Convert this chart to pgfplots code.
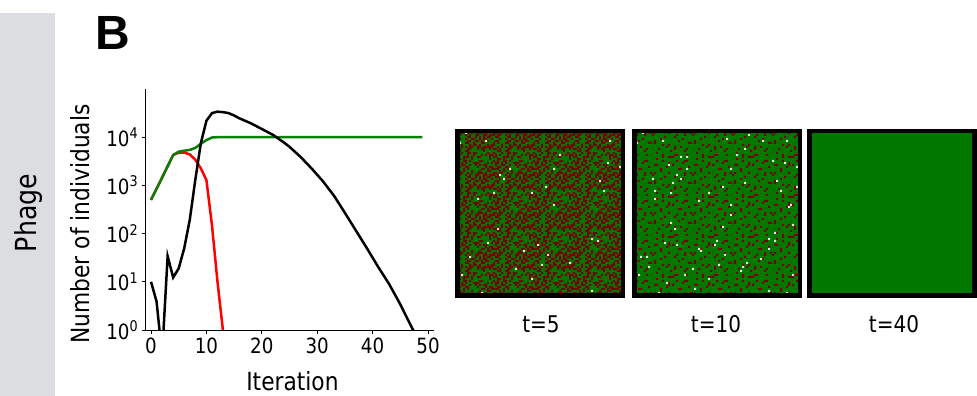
\documentclass[border=0pt]{standalone}
\usepackage{pgfplots}
\pgfplotsset{compat=1.18}
\usepackage{fontspec}
\setmainfont{DejaVu Sans}[FakeStretch=0.87]
\newfontfamily\panelfont{Liberation Sans}
\definecolor{bandgray}{RGB}{220,221,224}
\definecolor{cellgreen}{RGB}{0,120,0}
\definecolor{cellred}{RGB}{120,0,0}
\definecolor{cellwhite}{RGB}{228,228,228}
\definecolor{linegreen}{RGB}{8,128,8}

\pgfplotstableread{
x y
0 10
1 3.9
2 0.3
3 34
4 12.3
5 19
6 50
7 195
8 1320
9 7600
10 21900
11 31600
12 33900
13 33100
14 31600
15 28200
16 24500
18 19500
20 14800
22 11200
24 7760
25 6310
27 3890
29 2240
31 1230
33 617
35 269
37 115
39 49
41 20.4
43 8.9
45 3.4
47 1.17
48 0.71
}\blackdata
\pgfplotstableread{
x y
0 500
1 850
2 1450
3 2500
4 4270
5 5000
6 5250
7 5450
8 6000
9 7300
10 8700
11 9850
12 10000
49 10000
}\greendata
\pgfplotstableread{
x y
0 500
1 850
2 1450
3 2500
4 4270
5 4800
6 4800
7 4400
8 3400
9 2250
10 1290
11 150
12 10
13 0.95
14 0.1
}\reddata

% texture tiles for the snapshot panels (units: one cell)
\def\listA{0/0,1/0,6/0,7/0,1/1,2/1,5/1,7/1,0/2,2/2,3/2,6/2,8/2,2/3,4/3,8/3,0/4,1/4,4/4,6/4,1/5,2/5,5/5,6/5,0/6,3/6,4/6,7/6,0/7,1/7,3/7,5/7,9/7,1/8,4/8,5/8,7/8,1/9,2/9,4/9,8/9}
\def\listB{1/0,2/1,6/1,6/2,9/2,3/4,4/4,8/5,0/6,5/7,6/8,7/8,2/8}
\newcommand\tileA{%
  \fill[cellred]
    foreach \i/\j in \listA {(\i,\j) rectangle ++(1,1)}
    foreach \i/\j in \listA {(\j+10,\i) rectangle ++(1,1)}
    foreach \i/\j in \listA {({mod(\i+5,10)},{mod(\j+3,10)+10}) rectangle ++(1,1)}
    foreach \i/\j in \listA {({mod(\j+7,10)+10},{mod(\i+4,10)+10}) rectangle ++(1,1)};
  \fill[cellwhite] ({mod(3+7*\tx+4*\ty,20)},{mod(11+3*\tx+9*\ty,20)}) rectangle ++(1,1)
                   ({mod(13+5*\tx+3*\ty,20)},{mod(2+7*\tx+5*\ty,20)}) rectangle ++(1,1);}
\newcommand\tileB{%
  \fill[cellred]
    foreach \i/\j in \listB {(\i,\j) rectangle ++(1,1)}
    foreach \i/\j in \listB {(\j+10,\i) rectangle ++(1,1)}
    foreach \i/\j in \listB {({mod(\i+5,10)},{mod(\j+3,10)+10}) rectangle ++(1,1)}
    foreach \i/\j in \listB {({mod(\j+7,10)+10},{mod(\i+4,10)+10}) rectangle ++(1,1)};
  \fill[cellwhite] ({mod(3+7*\tx+4*\ty,20)},{mod(11+3*\tx+9*\ty,20)}) rectangle ++(1,1)
                   ({mod(13+5*\tx+3*\ty,20)},{mod(2+7*\tx+5*\ty,20)}) rectangle ++(1,1)
                   ({mod(8+3*\tx+11*\ty,20)},{mod(15+9*\tx+2*\ty,20)}) rectangle ++(1,1)
                   ({mod(17+9*\tx+7*\ty,20)},{mod(7+4*\tx+13*\ty,20)}) rectangle ++(1,1);}

\begin{document}
\begin{tikzpicture}
\useasboundingbox (0bp,0bp) rectangle (977bp,396bp);
% side band
\fill[bandgray] (0bp,0bp) rectangle (54.5bp,383bp);
\node[rotate=90,anchor=center,inner sep=0pt,font=\fontsize{29bp}{34bp}\selectfont] at (28bp,183bp) {Phage};
\node[anchor=base west,inner sep=0pt,font=\panelfont\bfseries\fontsize{48bp}{56bp}\selectfont] at (95bp,346bp) {B};

\begin{axis}[
  scale only axis,
  width=288.3bp, height=241bp,
  at={(145.7bp,66bp)}, anchor=south west,
  ymode=log, log basis y=10,
  xmin=-0.96, xmax=51.08,
  ymin=1, ymax=1e5,
  axis lines=left,
  axis line style={-, line width=0.9bp, black},
  tick align=outside,
  major tick length=4bp,
  minor tick length=0pt,
  tick style={black, line width=0.9bp},
  xtick={0,10,20,30,40,50},
  xticklabels={0,10,20,30,40,50},
  ytick={1,10,100,1000,10000},
  yticklabels={10\textsuperscript{0},10\textsuperscript{1},10\textsuperscript{2},10\textsuperscript{3},10\textsuperscript{4}},
  ticklabel style={font=\fontsize{21bp}{24bp}\selectfont},
  xlabel={Iteration},
  ylabel={Number of individuals},
  label style={font=\fontsize{25bp}{30bp}\selectfont, inner sep=0pt},
  xlabel style={at={(axis description cs:0.509,-0.212)}, anchor=center},
  ylabel style={at={(axis description cs:-0.228,0.44)}, anchor=center},
]
\addplot[red, line width=2.5bp] table[x=x,y=y] {\reddata};
\addplot[linegreen, line width=2.5bp] table[x=x,y=y] {\greendata};
\addplot[black, line width=2.5bp] table[x=x,y=y] {\blackdata};
\end{axis}

% panel t=5
\begin{scope}
  \clip (457bp,100bp) rectangle (623bp,265bp);
  \fill[cellgreen] (455bp,98bp) rectangle (625bp,267bp);
  \foreach \tx in {0,...,4}{\foreach \ty in {0,...,4}{
    \begin{scope}[shift={(455bp+\tx*40bp,98bp+\ty*40bp)},x=2bp,y=2bp]\tileA\end{scope}}}
\end{scope}
\draw[line width=4.5bp] (457.25bp,100.25bp) rectangle (622.75bp,264.75bp);
% panel t=10
\begin{scope}
  \clip (634bp,100bp) rectangle (800bp,265bp);
  \fill[cellgreen] (632bp,98bp) rectangle (802bp,267bp);
  \foreach \tx in {0,...,4}{\foreach \ty in {0,...,4}{
    \begin{scope}[shift={(632bp+\tx*40bp,98bp+\ty*40bp)},x=2bp,y=2bp]\tileB\end{scope}}}
\end{scope}
\draw[line width=4.5bp] (634.25bp,100.25bp) rectangle (799.75bp,264.75bp);
% panel t=40
\fill[cellgreen] (809bp,100bp) rectangle (974.5bp,265bp);
\draw[line width=4.5bp] (809.25bp,100.25bp) rectangle (974.25bp,264.75bp);

\node[anchor=base,inner sep=0pt,font=\fontsize{23bp}{28bp}\selectfont] at (541bp,63bp) {t=5};
\node[anchor=base,inner sep=0pt,font=\fontsize{23bp}{28bp}\selectfont] at (716bp,63bp) {t=10};
\node[anchor=base,inner sep=0pt,font=\fontsize{23bp}{28bp}\selectfont] at (894bp,63bp) {t=40};
\end{tikzpicture}
\end{document}
